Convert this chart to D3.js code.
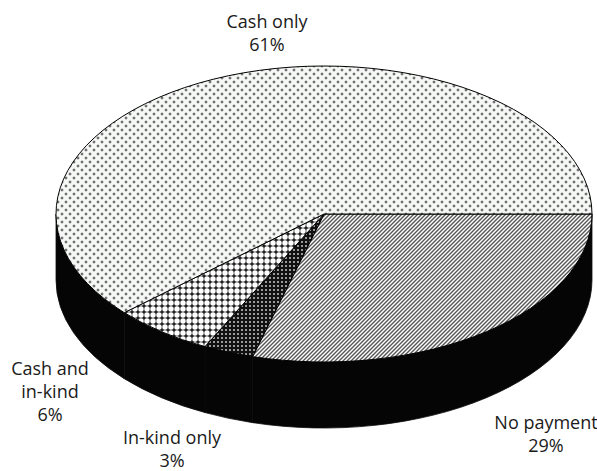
<!DOCTYPE html>
<html>
<head>
<meta charset="utf-8">
<script src="https://cdn.jsdelivr.net/npm/d3@7"></script>
<style>
  body { margin: 0; background: #fff; }
  text { font-family: "Open Sans", "Noto Sans", sans-serif; font-size: 18px; fill: #1a1a1a; }
</style>
</head>
<body>
<div id="chart"></div>
<script>
// Data (in pie order, clockwise from 3 o'clock)
var categories = ["No payment", "In-kind only", "Cash and in-kind", "Cash only"];
var shares = [29, 3, 6, 61];

var svgWidth = 597;
var svgHeight = 471;

// ellipse geometry of the 3D pie
var cx = 324, cy = 214;
var rx = 268, ry = 148;
var depth = 66;

var svg = d3.select("#chart")
  .append("svg")
  .attr("width", svgWidth)
  .attr("height", svgHeight);

// fill patterns
var defs = svg.append("defs");

// Cash only: light with small diamond dots
var p1 = defs.append("pattern").attr("id", "pat-cash")
  .attr("patternUnits", "userSpaceOnUse").attr("width", 8).attr("height", 8);
p1.append("rect").attr("width", 8).attr("height", 8).attr("fill", "#f6f8f6");
[[2, 2], [6, 6]].forEach(function(c) {
  p1.append("rect").attr("x", c[0] - 1.5).attr("y", c[1] - 0.5).attr("width", 3).attr("height", 1).attr("fill", "#6a6a6a");
  p1.append("rect").attr("x", c[0] - 0.5).attr("y", c[1] - 1.5).attr("width", 1).attr("height", 3).attr("fill", "#6a6a6a");
  p1.append("rect").attr("x", c[0] - 0.5).attr("y", c[1] - 0.5).attr("width", 1).attr("height", 1).attr("fill", "#222");
});

// No payment: diagonal stripes
var p2 = defs.append("pattern").attr("id", "pat-none")
  .attr("patternUnits", "userSpaceOnUse").attr("width", 4).attr("height", 4);
p2.append("rect").attr("width", 4).attr("height", 4).attr("fill", "#fff");
p2.append("path").attr("d", "M-1,1 L1,-1 M0,4 L4,0 M3,5 L5,3")
  .attr("stroke", "#555").attr("stroke-width", 1.4);

// In-kind only: dark with small light squares
var p3 = defs.append("pattern").attr("id", "pat-kind")
  .attr("patternUnits", "userSpaceOnUse").attr("width", 4).attr("height", 4);
p3.append("rect").attr("width", 4).attr("height", 4).attr("fill", "#111");
p3.append("rect").attr("x", 1).attr("y", 1).attr("width", 2).attr("height", 2).attr("fill", "#9a9a9a");

// Cash and in-kind: white circles on dark grid
var p4 = defs.append("pattern").attr("id", "pat-both")
  .attr("patternUnits", "userSpaceOnUse").attr("width", 6).attr("height", 6);
p4.append("rect").attr("width", 6).attr("height", 6).attr("fill", "#222");
p4.append("circle").attr("cx", 3).attr("cy", 3).attr("r", 2.7).attr("fill", "#fff");

var patterns = ["url(#pat-none)", "url(#pat-kind)", "url(#pat-both)", "url(#pat-cash)"];

var data = categories.map(function(c, i) {
  return { name: c, value: shares[i], fill: patterns[i] };
});

// pie layout, starting at 3 o'clock going clockwise
var pie = d3.pie()
  .sort(null)
  .value(function(d) { return d.value; })
  .startAngle(Math.PI / 2)
  .endAngle(Math.PI / 2 + 2 * Math.PI);

var arcs = pie(data);

function pt(a, dy) {
  return [cx + rx * Math.sin(a), cy - ry * Math.cos(a) + (dy || 0)];
}

function topPath(d) {
  var p0 = pt(d.startAngle), p1 = pt(d.endAngle);
  var large = (d.endAngle - d.startAngle) > Math.PI ? 1 : 0;
  return "M" + cx + "," + cy + "L" + p0 + "A" + rx + "," + ry + " 0 " + large + " 1 " + p1 + "Z";
}

function sidePath(d) {
  var a0 = Math.max(d.startAngle, Math.PI / 2);
  var a1 = Math.min(d.endAngle, 3 * Math.PI / 2);
  if (a1 <= a0) return null;
  var t0 = pt(a0), t1 = pt(a1), b0 = pt(a0, depth), b1 = pt(a1, depth);
  return "M" + t0 + "A" + rx + "," + ry + " 0 0 1 " + t1 +
    "L" + b1 + "A" + rx + "," + ry + " 0 0 0 " + b0 + "Z";
}

// side walls
svg.append("g").selectAll("path")
  .data(arcs.filter(function(d) { return sidePath(d) !== null; }))
  .enter()
  .append("path")
  .attr("d", sidePath)
  .attr("fill", "#050505")
  .attr("stroke", "#0d0d0d")
  .attr("stroke-width", 0.8);

// top faces
svg.append("g").selectAll("path")
  .data(arcs)
  .enter()
  .append("path")
  .attr("d", topPath)
  .attr("fill", function(d) { return d.data.fill; })
  .attr("stroke", "#000")
  .attr("stroke-width", 1)
  .attr("stroke-linejoin", "round");

// labels
var labelPos = {
  "Cash only": [267, 28],
  "No payment": [546, 429],
  "In-kind only": [172, 444],
  "Cash and in-kind": [50, 375]
};
var lineHeight = 23;

function wrap(name) {
  var words = name.split(" "), lines = [], cur = "";
  words.forEach(function(w) {
    var next = cur ? cur + " " + w : w;
    if (next.length > 12 && cur) { lines.push(cur); cur = w; } else { cur = next; }
  });
  lines.push(cur);
  return lines;
}

arcs.forEach(function(d) {
  var pos = labelPos[d.data.name];
  var lines = wrap(d.data.name).concat([d.data.value + "%"]);
  var t = svg.append("text")
    .attr("text-anchor", "middle")
    .attr("x", pos[0])
    .attr("y", pos[1]);
  lines.forEach(function(l, i) {
    t.append("tspan")
      .attr("x", pos[0])
      .attr("dy", i === 0 ? 0 : lineHeight)
      .text(l);
  });
});
</script>
</body>
</html>
